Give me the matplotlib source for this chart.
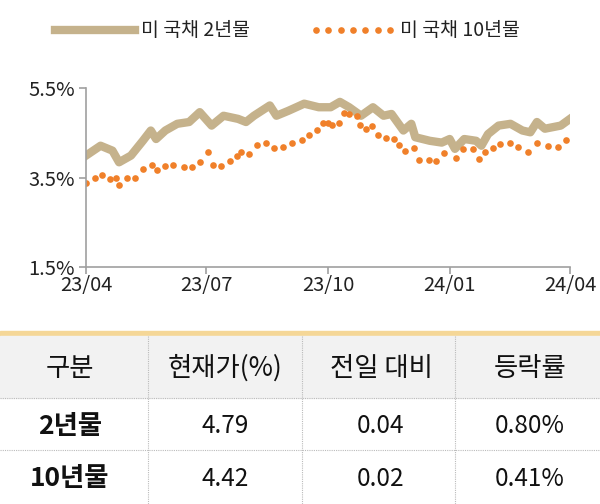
import matplotlib
matplotlib.use("Agg")
import matplotlib.pyplot as plt
import pandas as pd
from matplotlib.lines import Line2D
from matplotlib.patches import Rectangle

plt.rcParams["font.family"] = ["Noto Sans CJK KR", "DejaVu Sans"]

dates_2y = ["2023-04-01","2023-04-12","2023-04-21","2023-04-26","2023-05-05","2023-05-14","2023-05-20","2023-05-24",
            "2023-05-31","2023-06-09","2023-06-18","2023-06-26","2023-07-05","2023-07-14","2023-07-25","2023-07-31",
            "2023-08-06","2023-08-18","2023-08-23","2023-09-01","2023-09-13","2023-09-24","2023-10-03","2023-10-10",
            "2023-10-17","2023-10-26","2023-11-04","2023-11-12","2023-11-18","2023-11-27","2023-12-03","2023-12-06",
            "2023-12-17","2023-12-26","2024-01-01","2024-01-05","2024-01-12","2024-01-21","2024-01-25","2024-01-30",
            "2024-02-07","2024-02-16","2024-02-25","2024-03-02","2024-03-07","2024-03-13","2024-03-25","2024-04-01"]
yield_2y = [3.99,4.21,4.10,3.84,3.99,4.32,4.55,4.36,4.55,4.70,4.74,4.96,4.66,4.88,4.81,4.74,
            4.88,5.11,4.88,4.99,5.15,5.07,5.07,5.19,5.07,4.88,5.07,4.88,4.92,4.55,4.70,4.40,
            4.32,4.28,4.36,4.14,4.36,4.32,4.21,4.47,4.66,4.70,4.55,4.51,4.74,4.59,4.66,4.81]

dates_10y = ["2023-04-01","2023-04-08","2023-04-13","2023-04-19","2023-04-24","2023-04-26","2023-05-02","2023-05-08",
             "2023-05-14","2023-05-21","2023-05-25","2023-05-31","2023-06-06","2023-06-14","2023-06-20","2023-06-26",
             "2023-07-02","2023-07-06","2023-07-12","2023-07-19","2023-07-24","2023-07-27","2023-08-02","2023-08-08",
             "2023-08-15","2023-08-21","2023-08-28","2023-09-04","2023-09-11","2023-09-17","2023-09-23","2023-09-27",
             "2023-10-01","2023-10-04","2023-10-09","2023-10-13","2023-10-17","2023-10-23","2023-10-25","2023-10-30",
             "2023-11-03","2023-11-08","2023-11-14","2023-11-20","2023-11-24","2023-11-28","2023-12-05","2023-12-09",
             "2023-12-16","2023-12-22","2023-12-28","2024-01-06","2024-01-11","2024-01-19","2024-01-23","2024-01-28",
             "2024-02-03","2024-02-08","2024-02-16","2024-02-22","2024-02-29","2024-03-07","2024-03-15","2024-03-23",
             "2024-03-29"]
yield_10y = [3.38,3.50,3.56,3.47,3.50,3.33,3.50,3.49,3.69,3.79,3.66,3.76,3.79,3.73,3.74,3.85,
             4.06,3.79,3.76,3.87,3.99,4.06,4.02,4.22,4.28,4.16,4.19,4.28,4.34,4.46,4.56,4.72,
             4.71,4.67,4.72,4.95,4.91,4.88,4.67,4.58,4.65,4.46,4.39,4.35,4.22,4.10,4.16,3.90,
             3.89,3.87,4.04,3.93,4.13,4.13,3.91,4.07,4.16,4.24,4.28,4.19,4.06,4.26,4.20,4.19,
             4.34]

legend_labels = ["미 국채 2년물", "미 국채 10년물"]
y_ticks = [1.5, 3.5, 5.5]
x_ticks = ["2023-04-01","2023-07-01","2023-10-01","2024-01-01","2024-04-01"]
x_tick_labels = ["23/04","23/07","23/10","24/01","24/04"]

header = ["구분", "현재가(%)", "전일 대비", "등락률"]
rows = [["2년물", "4.79", "0.04", "0.80%"],
        ["10년물", "4.42", "0.02", "0.41%"]]

W, H = 600, 504
fig = plt.figure(figsize=(6, 5.04), dpi=100)
ax = fig.add_axes([86/W, 1-267/H, (570-86)/W, (267-88)/H])
tan = "#c5b28c"; orange = "#f0802a"; gray = "#a0a0a0"
ax.plot(pd.to_datetime(dates_2y), yield_2y, color=tan, lw=6, solid_joinstyle="round")
ax.plot(pd.to_datetime(dates_10y), yield_10y, 'o', color=orange, ms=4.8, mew=0)
ax.set_ylim(1.5, 5.5)
ax.set_xlim(pd.Timestamp(x_ticks[0]), pd.Timestamp(x_ticks[-1]))
ax.set_yticks(y_ticks)
ax.set_yticklabels([f"{v}%" for v in y_ticks])
ax.set_xticks(pd.to_datetime(x_ticks))
ax.set_xticklabels(x_tick_labels)
for s in ["top", "right"]:
    ax.spines[s].set_visible(False)
for s in ["left", "bottom"]:
    ax.spines[s].set_color(gray); ax.spines[s].set_linewidth(1.2)
ax.tick_params(axis="both", colors=gray, labelcolor="#222222", labelsize=14.5, length=5, width=1.2)
ax.tick_params(axis="x", pad=1)
ax.tick_params(axis="y", pad=3)

# legend
fig.add_artist(Line2D([55/W, 135/W], [1-30/H]*2, color=tan, lw=6))
fig.text(141/W, 1-30/H, legend_labels[0], fontsize=14, va="center", color="#222222")
xs = [316 + i*12.3 for i in range(7)]
fig.add_artist(Line2D([x/W for x in xs], [1-30/H]*7, color=orange, lw=0, marker='o', ms=4.8, mew=0))
fig.text(400/W, 1-30/H, legend_labels[1], fontsize=14, va="center", color="#222222")

# table
fig.add_artist(Rectangle((0, 1-336/H), 1, 5/H, color="#f5d797", transform=fig.transFigure))
fig.add_artist(Rectangle((0, 1-398/H), 1, 62/H, color="#f2f2f2", transform=fig.transFigure))
for yy in [398, 450]:
    fig.add_artist(Line2D([0, 1], [1-yy/H]*2, color="#bbbbbb", lw=0.8, ls=(0, (1, 1))))
for xx in [148, 302, 455]:
    fig.add_artist(Line2D([xx/W]*2, [1-336/H, 0], color="#bbbbbb", lw=0.8, ls=(0, (1, 1))))
col_c = [70, 225, 381, 530]
for c, t in zip(col_c, header):
    fig.text(c/W, 1-368/H, t, fontsize=19, ha="center", va="center", color="#111111")
for r, yc in zip(rows, [426, 479]):
    for i, (c, t) in enumerate(zip(col_c, r)):
        fig.text(c/W, 1-yc/H, t, fontsize=19 if i == 0 else 17.5, ha="center", va="center",
                 color="#111111", fontweight="bold" if i == 0 else "normal")

fig.savefig("out.png", dpi=100)
